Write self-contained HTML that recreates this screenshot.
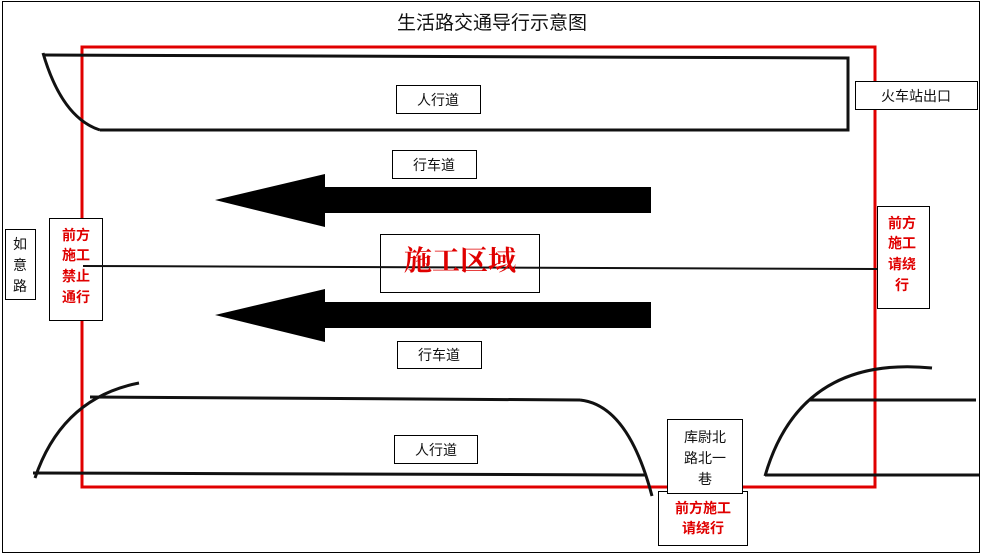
<!DOCTYPE html>
<html><head><meta charset="utf-8"><style>
html,body{margin:0;padding:0;background:#fff;}
svg{display:block;}
text{font-family:"Liberation Sans","Noto Sans CJK SC",sans-serif;}
</style></head><body>
<svg width="984" height="555" viewBox="0 0 984 555" xmlns="http://www.w3.org/2000/svg">
<rect x="2.5" y="1.5" width="977" height="551" fill="#fff" stroke="#000" stroke-width="1"/>
<text x="492" y="29" font-size="19" text-anchor="middle" fill="#111">生活路交通导行示意图</text>
<rect x="82" y="47" width="793" height="440" fill="none" stroke="#e00000" stroke-width="3"/>
<g fill="none" stroke="#111" stroke-width="3">
<path d="M43,55 L848,58 L848,130 L100,130"/>
<path d="M43,53 Q62,118 100,130"/>
<path d="M90,397 L580,400"/>
<path d="M580,400 Q628,405 652,496"/>
<path d="M33,473 L645,475"/>
<path d="M35,478 Q62,398 139,383"/>
<path d="M765,476 Q800,355 932,368"/>
<path d="M810,400 L976,400"/>
<path d="M765,475 L979,475"/>
</g>
<polygon points="215,200 325,174 325,187 651,187 651,213 325,213 325,227" fill="#000"/>
<polygon points="215,315 325,289 325,302 651,302 651,328 325,328 325,342" fill="#000"/>
<g fill="#fff" stroke="#000" stroke-width="1">
<rect x="396.5" y="85.5" width="84" height="28"/>
<rect x="392.5" y="150.5" width="84" height="28"/>
<rect x="380.5" y="234.5" width="159" height="58"/>
<rect x="397.5" y="341.5" width="84" height="27"/>
<rect x="394.5" y="435.5" width="83" height="28"/>
<rect x="5.5" y="229.5" width="30" height="70"/>
<rect x="49.5" y="218.5" width="53" height="102"/>
<rect x="877.5" y="206.5" width="52" height="102"/>
<rect x="855.5" y="81.5" width="122" height="28"/>
<rect x="658.5" y="491.5" width="89" height="54"/>
<rect x="667.5" y="419.5" width="75" height="74"/>
</g>
<path d="M83,266 L877,269" stroke="#111" stroke-width="2" fill="none"/>
<g font-size="14" fill="#111" text-anchor="middle">
<text x="438" y="105">人行道</text>
<text x="434" y="170">行车道</text>
<text x="439" y="360">行车道</text>
<text x="436" y="455">人行道</text>
<text x="916" y="101">火车站出口</text>
<text x="20" y="249">如</text>
<text x="20" y="270">意</text>
<text x="20" y="291">路</text>
<text x="705" y="442">库尉北</text>
<text x="705" y="463">路北一</text>
<text x="705" y="484">巷</text>
</g>
<text x="460" y="270" font-size="28" fill="#e00000" text-anchor="middle" font-weight="bold" style="font-family:'Liberation Serif','Noto Serif CJK SC',serif">施工区域</text>
<g font-size="14" fill="#e00000" font-weight="bold" text-anchor="middle">
<text x="76" y="240">前方</text>
<text x="76" y="260">施工</text>
<text x="76" y="281">禁止</text>
<text x="76" y="302">通行</text>
<text x="902" y="228">前方</text>
<text x="902" y="248">施工</text>
<text x="902" y="269">请绕</text>
<text x="902" y="290">行</text>
<text x="703" y="513">前方施工</text>
<text x="703" y="533">请绕行</text>
</g>
</svg>
</body></html>
